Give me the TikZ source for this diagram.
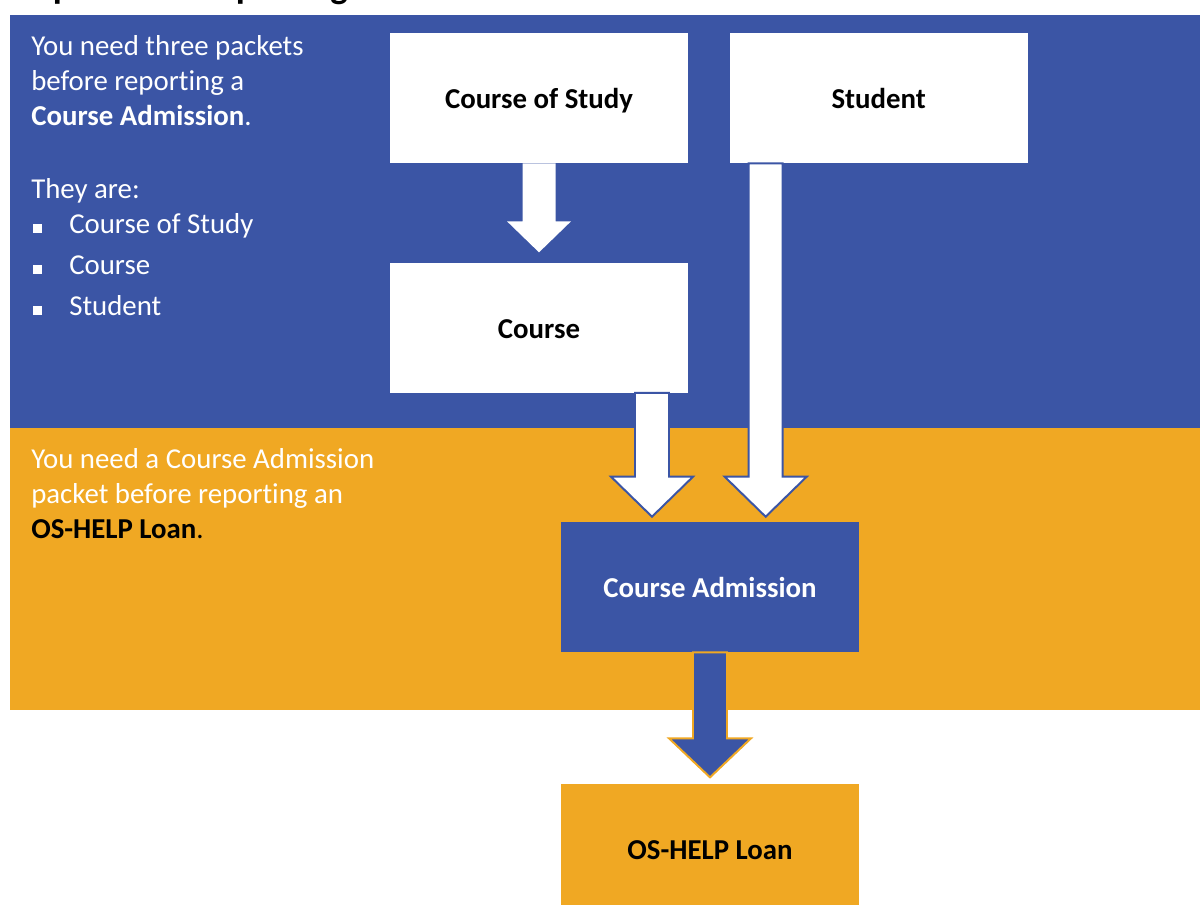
\documentclass[tikz,border=0pt]{standalone}
\usepackage{fontspec}
\setmainfont{Carlito}[Ligatures=NoCommon]
\usepackage{tikz}
\usetikzlibrary{positioning,calc}
\definecolor{dblue}{RGB}{59,85,165}
\definecolor{gold}{RGB}{240,168,35}

\tikzset{
  packet/.style={minimum width=7.45cm, minimum height=3.25cm, inner sep=0pt,
    text height=17.5pt, text depth=2.5pt,
    font=\fontsize{20.5}{24.9}\selectfont\bfseries},
  whitebox/.style={packet, fill=white, text=black},
  bluebox/.style={packet, fill=dblue, text=white},
  goldbox/.style={packet, fill=gold, text=black},
  line/.style={anchor=base west, inner sep=0pt, text=white,
    font=\fontsize{20.5}{24.9}\selectfont},
  bullet/.style={fill=white, minimum size=0.235cm, inner sep=0pt},
  blockarrow/.style={fill=white, draw=none},
}
% block arrow: #1 style, #2 start, #3 tip, #4 shaft half width, #5 head half width, #6 head length
\newcommand{\blockarrow}[6]{%
  \draw[blockarrow,#1] ($(#2)+(-#4,0)$) -- ($(#3)+(-#4,-#6)$) -- ($(#3)+(-#5,-#6)$) -- (#3)
    -- ($(#3)+(#5,-#6)$) -- ($(#3)+(#4,-#6)$) -- ($(#2)+(#4,0)$) -- cycle;}

\begin{document}
\begin{tikzpicture}[x=0.025cm, y=-0.025cm]
\useasboundingbox (0,0) rectangle (1200,904);
% title, cut by the page edge
\node[anchor=base west, inner sep=0pt, font=\fontsize{26.3}{30}\selectfont\bfseries] (title) at (4,-2) {Steps before reporting};

% bands
\fill[dblue] (10,15) rectangle (1200,428);
\fill[gold] (10,428) rectangle (1200,710);

% packets
\node[whitebox] (cos) at (539,98) {Course of Study};
\node[whitebox, right=1.025cm of cos] (stu) {Student};
\node[whitebox, below=2.475cm of cos] (crs) {Course};
\node[bluebox] (ca) at (710,587) {Course Admission};
\node[goldbox, below=3.275cm of ca] (os) {OS-HELP Loan};

% arrows
\coordinate (a1t) at ($(crs.north)+(0,-10)$);
\blockarrow{}{cos.south}{a1t}{16.5}{32}{31}
\coordinate (a2s) at ($(crs.south)+(113,0)$);
\coordinate (a2t) at ($(a2s |- ca.north)+(0,-5)$);
\blockarrow{draw=dblue, line width=1.4pt}{a2s}{a2t}{17}{41}{40}
\coordinate (a3s) at ($(stu.south)+(-113,0)$);
\coordinate (a3t) at ($(a3s |- ca.north)+(0,-5)$);
\blockarrow{draw=dblue, line width=1.4pt}{a3s}{a3t}{17}{41}{40}
\coordinate (a4t) at ($(os.north)+(0,-6)$);
\blockarrow{fill=dblue, draw=gold, line width=1.4pt}{ca.south}{a4t}{17}{41}{39}

% text in the blue band
\node[line] (t1) at (31,55) {You need three packets};
\node[line] (t2) at (31,90) {before reporting a};
\node[line] (t3) at (31,125) {\textbf{Course Admission}.};
\node[line] (t4) at (31,198) {They are:};
\foreach \y/\txt [count=\i] in {233/Course of Study, 274/Course, 315/Student}{
  \node[bullet] (b\i) at (37.5,\y-4.5) {};
  \node[line] (l\i) at (69,\y) {\txt};
}
% text in the gold band
\node[line] (u1) at (31,468) {You need a Course Admission};
\node[line] (u2) at (31,503) {packet before reporting an};
\node[line, text=black] (u3) at (31,538) {\textbf{OS-HELP Loan}.};
\end{tikzpicture}
\end{document}
